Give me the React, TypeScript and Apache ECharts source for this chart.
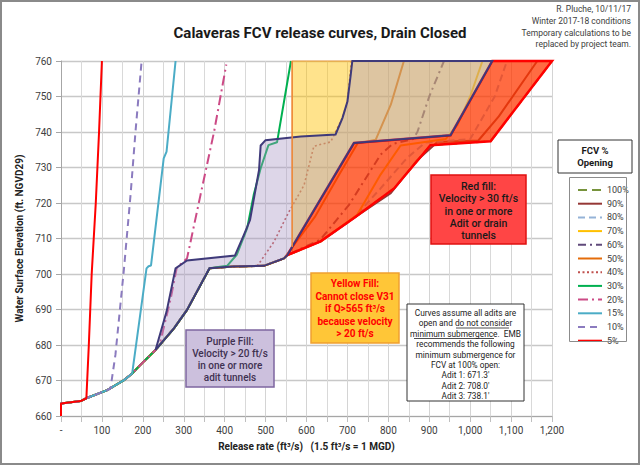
import React, { useEffect, useRef } from 'react';
import * as echarts from 'echarts';

type Pt = [number, number];

// shared lower curve (all openings follow it before they break away)
const ENV: Pt[] = [[0, 660], [0, 663.5], [48, 664.2], [62, 665], [113, 667.3], [154, 670.1], [174, 672], [194, 674.4], [231, 678.6], [276, 684.7], [308, 689.9], [363, 701.6], [420, 702.1], [496, 702.3], [545, 704.4]];
const upTo = (x: number) => ENV.filter(p => p[0] <= x);

const C5: Pt[] = [[0, 660], [0, 663.5], [48, 664.2], [62, 665], [68, 680], [75, 700], [85, 720], [93, 740], [100, 760]];
const C10: Pt[] = [...upTo(113), [121, 667.8], [133, 677.2], [154, 701.6], [170, 722.3], [182, 740], [197, 760]];
const C15: Pt[] = [...upTo(174), [209, 701.6], [214, 702.2], [220, 702.4], [251, 732.6], [258, 734.5], [280, 760]];
const C20: Pt[] = [...upTo(231), [243, 681], [268, 693], [283, 701.8], [308, 704.4], [341, 722.3], [374, 740], [404, 759]];
const C30: Pt[] = [...upTo(363), [406, 702.3], [430, 705.5], [455, 712.9], [471, 722.3], [488, 729.8], [507, 736.3], [528, 737.1], [562, 760]];
const C40: Pt[] = [...upTo(420), [480, 702.3], [520, 709], [557, 717.5], [594, 725], [618, 736], [659, 737.2], [688, 744], [700, 748.6], [710, 760]];
const C50: Pt[] = [...upTo(545), [552, 705.5], [620, 716], [680, 728], [725, 736.8], [769, 737.8], [806, 747.7], [838, 760]];
const C60: Pt[] = [...upTo(545), [553, 705.3], [634, 709.7], [704, 719.5], [781, 733.6], [810, 736.6], [860, 738], [871, 740], [900, 750], [936, 760]];
const C70: Pt[] = [...upTo(545), [553, 705.3], [634.5, 709.2], [724, 716.7], [781, 728], [830, 736.2], [940, 738], [969, 742], [1000, 750], [1030, 760]];
const C80: Pt[] = [...upTo(545), [553, 705.3], [634.5, 709.2], [716, 715.8], [780, 724], [846, 732.7], [890, 737], [1000, 738], [1034, 744.8], [1060, 750], [1090, 760]];
const C90: Pt[] = [...upTo(545), [553, 705.3], [634.5, 709.2], [716, 715.8], [806, 722.8], [870, 732], [920, 737.2], [1020, 737.6], [1070, 744.4], [1164, 760]];
const C100: Pt[] = [...upTo(545), [553, 705.3], [634.5, 709.2], [716, 715.8], [814, 724.1], [903, 736.3], [1050, 737.4], [1200, 760]];

// shaded zones
const YELLOW_ZONE: Pt[] = [[565, 707.6], [565, 760], [1200, 760], [1050, 737.4], [903, 736.3], [814, 724.1], [716, 715.8], [634.5, 709.2], [565, 705.8]];
const PURPLE_ZONE: Pt[] = [[231, 678.6], [276, 684.7], [308, 689.9], [363, 701.6], [420, 702.1], [496, 702.3], [545, 704.4], [553, 705.3], [716, 736.9], [952, 739.1], [1054, 760], [712, 760], [708, 756], [700, 748.6], [688, 744], [671, 739.3], [586, 738.7], [500, 737.7], [488, 736.2], [484, 729.3], [462, 715.2], [447, 711], [425, 705.2], [308, 703.8], [280, 701.6], [258, 689.4]];
const RED_ZONE: Pt[] = [[553, 705.3], [716, 736.9], [952, 739.1], [1054, 760], [1200, 760], [1050, 737.4], [903, 736.3], [814, 724.1], [716, 715.8], [634.5, 709.2]];
const V31: Pt[] = [[565, 707.6], [565, 760]];

const X_LABELS = ['-', '100', '200', '300', '400', '500', '600', '700', '800', '900', '1,000', '1,100', '1,200'];

const CURVES: { name: string; data: Pt[]; color: string; type: any; width: number }[] = [
  { name: '100%', data: C100, color: '#77933c', type: [9, 5], width: 2 },
  { name: '90%', data: C90, color: '#953735', type: 'solid', width: 2 },
  { name: '80%', data: C80, color: '#95b3d7', type: [7, 4], width: 2 },
  { name: '70%', data: C70, color: '#ffc000', type: 'solid', width: 2 },
  { name: '60%', data: C60, color: '#604a7b', type: [8, 4, 2, 4], width: 2 },
  { name: '50%', data: C50, color: '#e46c0a', type: 'solid', width: 2 },
  { name: '40%', data: C40, color: '#c0504d', type: [2, 2.5], width: 1.6 },
  { name: '30%', data: C30, color: '#00b050', type: 'solid', width: 2 },
  { name: '20%', data: C20, color: '#cc4a86', type: [10, 4, 2, 4], width: 2 },
  { name: '15%', data: C15, color: '#4bacc6', type: 'solid', width: 2 },
  { name: '10%', data: C10, color: '#8b7bbf', type: [7, 5], width: 2 },
  { name: '5%', data: C5, color: '#ff0000', type: 'solid', width: 2 },
];

const FONT = 'Roboto, "Liberation Sans", sans-serif';

function zone(name: string, pts: Pt[], fill: string, stroke: string, lw: number) {
  return {
    type: 'custom', name, data: pts, silent: true, z: 5,
    renderItem: (params: any, api: any) => {
      if (params.dataIndex !== 0) return null;
      return { type: 'polygon', shape: { points: pts.map(p => api.coord(p)) }, style: { fill, stroke, lineWidth: lw } };
    },
  };
}

function txt(x: number, y: number, text: string, size: number, color: string, weight: any = 'normal', lh = 12, align = 'center') {
  return {
    type: 'text', x, y, silent: true, z: 100,
    style: { text, fill: color, fontSize: size, fontFamily: FONT, fontWeight: weight, lineHeight: lh, align, textAlign: align, verticalAlign: 'middle', textVerticalAlign: 'middle' },
  };
}
function box(x: number, y: number, w: number, h: number, fill: string, stroke: string, lw = 1) {
  return { type: 'rect', silent: true, z: 99, shape: { x, y, width: w, height: h }, style: { fill, stroke, lineWidth: lw } };
}

export default function App() {
  const ref = useRef<HTMLDivElement>(null);
  useEffect(() => {
    if (!ref.current) return;
    const chart = echarts.init(ref.current, undefined, { renderer: 'svg' });
    const lines = CURVES.map(c => ({
      type: 'line', name: c.name, data: c.data, symbol: 'none', showSymbol: false, z: 2,
      lineStyle: { color: c.color, type: c.type, width: c.width }, itemStyle: { color: c.color },
    }));
    chart.setOption({
      animation: false,
      backgroundColor: '#fff',
      title: { text: 'Calaveras FCV release curves, Drain Closed', left: 'center', top: 20, textStyle: { fontSize: 15, fontWeight: 'bold', color: '#1a1a1a', fontFamily: FONT } },
      grid: { left: 61, top: 61, width: 491, height: 355 },
      xAxis: {
        type: 'value', min: 0, max: 1200, interval: 100,
        name: 'Release rate (ft³/s)   (1.5 ft³/s = 1 MGD)', nameLocation: 'middle', nameGap: 25,
        nameTextStyle: { fontSize: 10, fontWeight: 'bold', color: '#222', fontFamily: FONT },
        axisLine: { lineStyle: { color: '#a6a6a6' } },
        axisTick: { show: true, length: 6, lineStyle: { color: '#bfbfbf' } },
        minorTick: { show: true, splitNumber: 2, length: 6, lineStyle: { color: '#bfbfbf' } },
        axisLabel: { fontSize: 10, color: '#404040', fontFamily: FONT, margin: 9, formatter: (v: number) => X_LABELS[Math.round(v / 100)] },
        splitLine: { lineStyle: { color: '#d4d4d4', width: 1 } },
        minorSplitLine: { show: true, lineStyle: { color: '#d9d9d9', width: 1 } },
      },
      yAxis: {
        type: 'value', min: 660, max: 760, interval: 10,
        name: 'Water Surface Elevation (ft. NGVD29)', nameLocation: 'middle', nameGap: 35, nameRotate: 90,
        nameTextStyle: { fontSize: 10, fontWeight: 'bold', color: '#222', fontFamily: FONT },
        axisLine: { show: true, lineStyle: { color: '#a6a6a6' } },
        axisTick: { show: true, length: 5, lineStyle: { color: '#a6a6a6' } },
        axisLabel: { fontSize: 10, color: '#404040', fontFamily: FONT, margin: 9 },
        splitLine: { lineStyle: { color: '#c8c8c8', width: 1.3 } },
      },
      legend: {
        orient: 'vertical', left: 572, top: 180, itemWidth: 24, itemHeight: 10, itemGap: 3.7,
        data: CURVES.map(c => c.name),
        itemStyle: { opacity: 0, borderWidth: 0 },
        textStyle: { fontSize: 9, color: '#404040', fontFamily: FONT, lineHeight: 10 },
      },
      series: [
        ...lines,
        zone('yellow', YELLOW_ZONE, 'rgba(255,192,0,0.45)', 'rgba(240,150,50,0.9)', 1.2),
        zone('red', RED_ZONE, 'rgba(255,0,0,0.53)', '#ff0000', 2.5),
        zone('purple', PURPLE_ZONE, 'rgba(168,150,196,0.39)', '#3f3a7a', 2),
        {
          type: 'line', name: 'V31', data: V31, symbol: 'none', silent: true, z: 5,
          lineStyle: { color: '#ee8a3a', width: 1.5 },
        },
      ],
      graphic: [
        box(1, 1, 638, 463, 'none', '#8a8a8a', 2),
        txt(631, 9, 'R. Pluche, 10/11/17', 8.5, '#404040', 'normal', 12, 'right'),
        txt(631, 21, 'Winter 2017-18 conditions', 8.5, '#404040', 'normal', 12, 'right'),
        txt(631, 32.5, 'Temporary calculations to be', 8.5, '#404040', 'normal', 12, 'right'),
        txt(631, 44, 'replaced by project team.', 8.5, '#404040', 'normal', 12, 'right'),
        // legend header and frame
        box(558, 140, 74, 33, '#fff', '#333', 1),
        txt(595, 156.5, 'FCV %\nOpening', 9.5, '#1a1a1a', 'bold', 12),
        box(569.5, 177.5, 57, 164, 'none', '#8c8c8c', 1),
        // annotations
        box(186, 330, 88, 57, '#ccc0dd', '#7d66a0', 1.5),
        txt(230, 359.5, 'Purple Fill:\nVelocity > 20 ft/s\nin one or more\nadit tunnels', 10, '#3f3151', 500, 12.3),
        box(311, 273, 88, 70, '#ffc637', '#f0a030', 1.5),
        txt(355, 308.5, 'Yellow Fill:\nCannot close V31\nif Q>565 ft³/s\nbecause velocity\n> 20 ft/s', 10, '#ff0000', 'bold', 12.5),
        box(431, 175, 95, 69, '#ff4545', '#e01010', 1.5),
        txt(478.5, 211, 'Red fill:\nVelocity > 30 ft/s\nin one or more\nAdit or drain\ntunnels', 10.5, '#1a1a1a', 500, 12.3),
        box(407, 304, 117, 97, '#fff', '#333', 1),
        txt(465.5, 354.5, "Curves assume all adits are\nopen and do not consider\nminimum submergence.  EMB\nrecommends the following\nminimum submergence for\nFCV at 100% open:\nAdit 1: 671.3'\nAdit 2: 708.0'\nAdit 3: 738.1'", 8.3, '#222', 'normal', 10.4),
        { type: 'line', silent: true, z: 100, shape: { x1: 456, y1: 328, x2: 509, y2: 328 }, style: { stroke: '#222', lineWidth: 0.8 } },
        { type: 'line', silent: true, z: 100, shape: { x1: 414, y1: 338.5, x2: 494, y2: 338.5 }, style: { stroke: '#222', lineWidth: 0.8 } },
      ],
    });
    return () => chart.dispose();
  }, []);
  return <div ref={ref} style={{ position: 'fixed', left: 0, top: 0, width: 640, height: 465 }} />;
}
